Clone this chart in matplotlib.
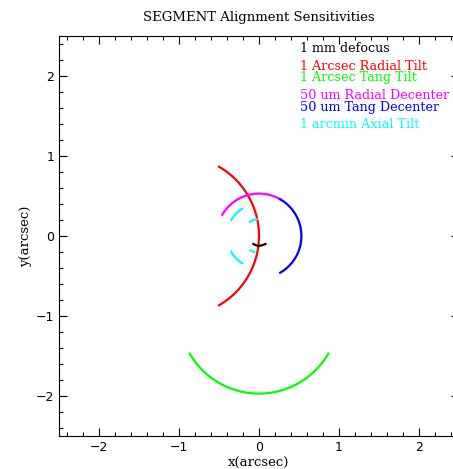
import numpy as np
import matplotlib
matplotlib.use("Agg")
import matplotlib.pyplot as plt
from matplotlib.ticker import MultipleLocator

# arcs: (centre x, centre y, radius, start deg, end deg)
red_arc = (-1.0, 0.0, 1.0, -60, 60)
green_arc = (0.0, -0.97, 1.0, 210, 330)
magenta_arc = (0.0, 0.0, 0.53, 60, 150)
blue_arc = (0.0, 0.0, 0.53, -60, 60)
# cyan is a broken (dashed) curve: one arc per dash
cyan_dashes = [(0.0, 0.0, 0.40, 122, 150), (0.0, 0.0, 0.40, 210, 238),
               (0.0, 0.0, 0.21, 98, 122), (0.0, 0.0, 0.21, -121, -106)]
# defocus mark near the origin
black_x = [-0.07, -0.04, 0.0, 0.04, 0.08]
black_y = [-0.10, -0.115, -0.125, -0.115, -0.10]

labels = ["1 mm defocus", "1 Arcsec Radial Tilt", "1 Arcsec Tang Tilt",
          "50 um Radial Decenter", "50 um Tang Decenter", "1 arcmin Axial Tilt"]
label_colors = ["black", "#ff0000", "#00ff00", "#ff00ff", "#0000ff", "#00ffff"]
label_y = [2.34, 2.125, 1.975, 1.76, 1.6, 1.4]


def arc(cx, cy, r, a0, a1):
    t = np.radians(np.linspace(a0, a1, 100))
    return cx + r * np.cos(t), cy + r * np.sin(t)


fig = plt.figure(figsize=(4.53, 4.69), dpi=100)
ax = fig.add_axes([59 / 453, 33 / 469, 400 / 453, 400 / 469])

lw = 1.6
for a, c in [(red_arc, "#ff0000"), (green_arc, "#00ff00"),
             (magenta_arc, "#ff00ff"), (blue_arc, "#0000ff")]:
    x, y = arc(*a)
    ax.plot(x, y, color=c, lw=lw)
for d in cyan_dashes:
    x, y = arc(*d)
    ax.plot(x, y, color="#00ffff", lw=lw)
ax.plot(black_x, black_y, color="black", lw=lw)

for t, c, yy in zip(labels, label_colors, label_y):
    ax.text(0.51, yy, t, color=c, fontsize=9.2, family="DejaVu Serif",
            va="center", ha="left")

ax.set_xlim(-2.5, 2.5)
ax.set_ylim(-2.5, 2.5)
ax.xaxis.set_major_locator(MultipleLocator(1))
ax.yaxis.set_major_locator(MultipleLocator(1))
ax.xaxis.set_minor_locator(MultipleLocator(0.2))
ax.yaxis.set_minor_locator(MultipleLocator(0.2))
ax.tick_params(which="both", direction="in", top=True, right=True,
               labelsize=9, width=0.8)
ax.tick_params(which="major", length=6)
ax.tick_params(which="minor", length=3)
for s in ax.spines.values():
    s.set_linewidth(0.8)

ax.set_xlabel("x(arcsec)", family="DejaVu Serif", fontsize=9.5, labelpad=2)
ax.set_ylabel("y(arcsec)", family="DejaVu Serif", fontsize=9.5, labelpad=3)
fig.text(259 / 453, 1 - 17 / 469, "SEGMENT Alignment Sensitivities",
         family="DejaVu Serif", fontsize=9.5, ha="center", va="center")

fig.savefig("out.png", dpi=100)
